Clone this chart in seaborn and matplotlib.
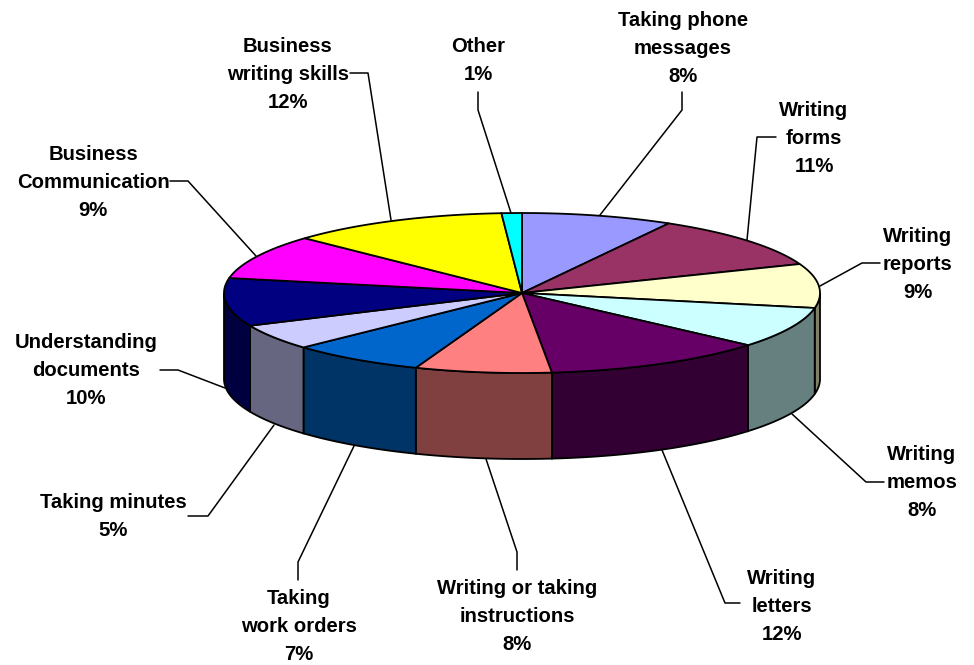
"""Pie chart 3D (habilidades de escrita) desenhado a partir das fatias."""

import numpy as np
import matplotlib
matplotlib.use("Agg")
import matplotlib.pyplot as plt
import seaborn as sns

categories = [
    "Taking phone\nmessages", "Writing\nforms", "Writing\nreports", "Writing\nmemos",
    "Writing\nletters", "Writing or taking\ninstructions", "Taking\nwork orders",
    "Taking minutes", "Understanding\ndocuments", "Business\nCommunication",
    "Business\nwriting skills", "Other",
]
shares = [8.2, 10.9, 8.9, 8.3, 12.1, 7.4, 7.3, 5.2, 9.7, 9.0, 11.9, 1.1]
pct_labels = ["8%", "11%", "9%", "8%", "12%", "8%", "7%", "5%", "10%", "9%", "12%", "1%"]
top_colors = [
    "#9999FF", "#993366", "#FFFFCC", "#CCFFFF", "#660066", "#FF8080",
    "#0066CC", "#CCCCFF", "#000080", "#FF00FF", "#FFFF00", "#00FFFF",
]

# geometria da elipse, em pixels da imagem
CX, CY, RX, RY, DEPTH = 522, 293, 298, 80, 86

# centro do texto e polilinha de cada rótulo
label_pos = [
    (683, 48), (814, 139), (918, 265), (922, 483), (782, 606), (517, 617),
    (299, 626), (113, 517), (86, 371), (93, 182), (288, 74), (478, 61),
]
leaders = [
    [(682, 92), (682, 110), (600, 215)],
    [(776, 137), (757, 137), (747, 240)],
    [(880, 263), (862, 263), (820, 286)],
    [(884, 482), (866, 482), (792, 414)],
    [(740, 603), (725, 603), (662, 450)],
    [(517, 570), (517, 552), (486, 459)],
    [(298, 580), (298, 562), (354, 446)],
    [(188, 516), (208, 516), (274, 425)],
    [(160, 370), (178, 370), (225, 388)],
    [(170, 181), (188, 181), (256, 256)],
    [(350, 73), (368, 73), (391, 220)],
    [(478, 92), (478, 110), (511, 213)],
]


def arc(a0, a1):
    """Pontos da borda entre dois ângulos (horário a partir do topo)."""
    t = np.radians(np.linspace(a0, a1, 80))
    return CX + RX * np.sin(t), CY - RY * np.cos(t)


def draw_pie(ax):
    edges = np.concatenate([[0], np.cumsum(shares)]) / np.sum(shares) * 360

    # paredes laterais: só a metade da frente (90 a 270 graus)
    for i, color in enumerate(top_colors):
        a0, a1 = max(edges[i], 90), min(edges[i + 1], 270)
        if a0 >= a1:
            continue
        x, y = arc(a0, a1)
        r, g, b = matplotlib.colors.to_rgb(color)
        ax.fill(np.r_[x, x[::-1]], np.r_[y, y[::-1] + DEPTH],
                color=(r / 2, g / 2, b / 2), ec="black", lw=1.3, zorder=2)

    # tampa de cima
    for i, color in enumerate(top_colors):
        x, y = arc(edges[i], edges[i + 1])
        ax.fill(np.r_[CX, x], np.r_[CY, y], fc=color, ec="black", lw=1.3, zorder=3)


def draw_labels(ax):
    for name, pct, pos, line in zip(categories, pct_labels, label_pos, leaders):
        ax.text(pos[0], pos[1], f"{name}\n{pct}", ha="center", va="center",
                fontsize=14.6, fontweight="bold", color="black", linespacing=1.6, zorder=5)
        xs, ys = zip(*line)
        ax.plot(xs, ys, color="black", lw=1.1, zorder=4)


def main():
    sns.set_theme(style="white")
    plt.rcParams["font.family"] = ["Liberation Sans", "DejaVu Sans"]

    fig = plt.figure(figsize=(9.74, 6.65), dpi=100, facecolor="white")
    ax = fig.add_axes([0, 0, 1, 1])
    ax.set_xlim(0, 974)
    ax.set_ylim(665, 0)
    ax.axis("off")

    draw_pie(ax)
    draw_labels(ax)

    fig.savefig("out.png", dpi=100)


if __name__ == "__main__":
    main()
